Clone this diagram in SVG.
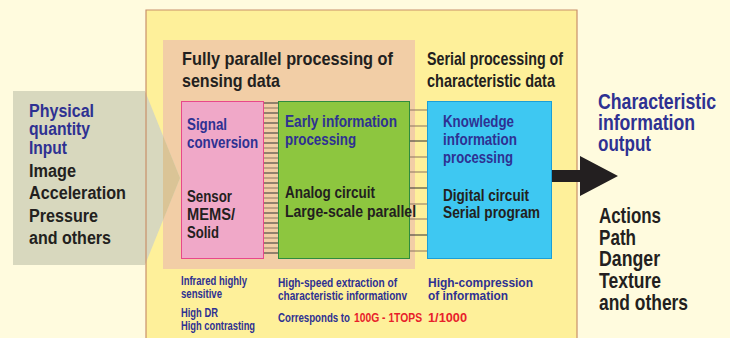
<svg xmlns="http://www.w3.org/2000/svg" width="730" height="338" viewBox="0 0 730 338">
<style>
text{font-family:"Liberation Sans Narrow","Liberation Sans",Arial,sans-serif;font-weight:bold;}
.bl{fill:#2E3192}
.bk{fill:#231F20}
.rd{fill:#E8202A}
.f19{font-size:19px}
.f18{font-size:18px}
.f17{font-size:17px}
.f22{font-size:22px}
.f13{font-size:13px}
.w1{stroke:#333;stroke-width:1}
.w2{stroke:#8B7560;stroke-width:1}
</style>
<rect x="0" y="0" width="730" height="338" fill="#FFFBDE"/>
<g id="panel-serial">
<rect x="146" y="10" width="431" height="340" fill="#FEF09A"/>
</g>
<g id="panel-parallel">
<rect x="163" y="40" width="252" height="229" fill="#F2CEA6"/>
</g>
<g id="input">
<path d="M13,91 H145 L180,178 L145,265 H13 Z" fill="#D8D8BE"/>
<path d="M163,135.7 L180,178 L163,220.3 Z" fill="#DAC496"/>
<text class="bl f19" transform="translate(29,0) scale(0.85,1)"><tspan x="0" y="117" textLength="76.5" lengthAdjust="spacingAndGlyphs">Physical</tspan><tspan x="0" y="135" textLength="71.8" lengthAdjust="spacingAndGlyphs">quantity</tspan><tspan x="0" y="154" textLength="44.7" lengthAdjust="spacingAndGlyphs">Input</tspan></text>
<text class="bk f19" transform="translate(29,0) scale(0.85,1)"><tspan x="0" y="177" textLength="55.3" lengthAdjust="spacingAndGlyphs">Image</tspan><tspan x="0" y="199" textLength="114.1" lengthAdjust="spacingAndGlyphs">Acceleration</tspan><tspan x="0" y="222" textLength="81.2" lengthAdjust="spacingAndGlyphs">Pressure</tspan><tspan x="0" y="244" textLength="96.5" lengthAdjust="spacingAndGlyphs">and others</tspan></text>
</g>
<path d="M146,338 V10 H577 V338" fill="none" stroke="#C8906A" stroke-width="1.2"/>
<g id="header-parallel">
<text class="bk f18" transform="translate(182,0) scale(0.9,1)"><tspan x="0" y="65" textLength="234.4" lengthAdjust="spacingAndGlyphs">Fully parallel processing of</tspan><tspan x="0" y="87" textLength="108.9" lengthAdjust="spacingAndGlyphs">sensing data</tspan></text>
</g>
<g id="header-serial">
<text class="bk f18" transform="translate(427,0) scale(0.9,1)"><tspan x="0" y="65" textLength="151.1" lengthAdjust="spacingAndGlyphs">Serial processing of</tspan><tspan x="0" y="87" textLength="142.2" lengthAdjust="spacingAndGlyphs">characteristic data</tspan></text>
</g>
<g id="connectors">
<g id="bus-pink-green">
<line class="w1" x1="264" y1="103" x2="278" y2="103"/><line class="w2" x1="264" y1="108" x2="278" y2="108"/>
<line class="w1" x1="264" y1="113" x2="278" y2="113"/><line class="w2" x1="264" y1="118" x2="278" y2="118"/>
<line class="w1" x1="264" y1="123" x2="278" y2="123"/><line class="w2" x1="264" y1="128" x2="278" y2="128"/>
<line class="w1" x1="264" y1="133" x2="278" y2="133"/><line class="w2" x1="264" y1="138" x2="278" y2="138"/>
<line class="w1" x1="264" y1="143" x2="278" y2="143"/><line class="w2" x1="264" y1="148" x2="278" y2="148"/>
<line class="w1" x1="264" y1="153" x2="278" y2="153"/><line class="w2" x1="264" y1="158" x2="278" y2="158"/>
<line class="w1" x1="264" y1="163" x2="278" y2="163"/><line class="w2" x1="264" y1="168" x2="278" y2="168"/>
<line class="w1" x1="264" y1="173" x2="278" y2="173"/><line class="w2" x1="264" y1="178" x2="278" y2="178"/>
<line class="w1" x1="264" y1="183" x2="278" y2="183"/><line class="w2" x1="264" y1="188" x2="278" y2="188"/>
<line class="w1" x1="264" y1="193" x2="278" y2="193"/><line class="w2" x1="264" y1="198" x2="278" y2="198"/>
<line class="w1" x1="264" y1="203" x2="278" y2="203"/><line class="w2" x1="264" y1="208" x2="278" y2="208"/>
<line class="w1" x1="264" y1="213" x2="278" y2="213"/><line class="w2" x1="264" y1="218" x2="278" y2="218"/>
<line class="w1" x1="264" y1="223" x2="278" y2="223"/><line class="w2" x1="264" y1="228" x2="278" y2="228"/>
<line class="w1" x1="264" y1="233" x2="278" y2="233"/><line class="w2" x1="264" y1="238" x2="278" y2="238"/>
<line class="w1" x1="264" y1="243" x2="278" y2="243"/><line class="w2" x1="264" y1="248" x2="278" y2="248"/>
<line class="w1" x1="264" y1="253" x2="278" y2="253"/>
</g>
<g id="bus-green-blue">
<line class="w2" x1="410" y1="110" x2="427" y2="110"/><line class="w2" x1="410" y1="126" x2="427" y2="126"/>
<line class="w1" x1="410" y1="141" x2="427" y2="141"/><line class="w2" x1="410" y1="157" x2="427" y2="157"/>
<line class="w2" x1="410" y1="172" x2="427" y2="172"/><line class="w1" x1="410" y1="188" x2="427" y2="188"/>
<line class="w2" x1="410" y1="204" x2="427" y2="204"/><line class="w2" x1="410" y1="219" x2="427" y2="219"/>
<line class="w1" x1="410" y1="235" x2="427" y2="235"/><line class="w2" x1="410" y1="251" x2="427" y2="251"/>
</g>
<path id="output-arrow" d="M552,170 H580 V156 L618,176 L580,196 V182 H552 Z" fill="#231F20"/>
</g>
<g id="signal-conversion">
<rect x="181.5" y="101.5" width="82" height="157" fill="#F0A8C8" stroke="#E8488A" stroke-width="1"/>
<text class="bl f17" transform="translate(187,0) scale(0.82,1)"><tspan x="0" y="130" textLength="48.8" lengthAdjust="spacingAndGlyphs">Signal</tspan><tspan x="0" y="148" textLength="86.6" lengthAdjust="spacingAndGlyphs">conversion</tspan></text>
<text class="bk f17" transform="translate(187,0) scale(0.82,1)"><tspan x="0" y="202" textLength="54.9" lengthAdjust="spacingAndGlyphs">Sensor</tspan><tspan x="0" y="220" textLength="58.5" lengthAdjust="spacingAndGlyphs">MEMS/</tspan><tspan x="0" y="238" textLength="39" lengthAdjust="spacingAndGlyphs">Solid</tspan></text>
</g>
<g id="early-processing">
<rect x="278.5" y="101.5" width="131" height="157" fill="#8DC63F" stroke="#2E8B3E" stroke-width="1"/>
<text class="bl f17" transform="translate(285,0) scale(0.82,1)"><tspan x="0" y="127" textLength="136.6" lengthAdjust="spacingAndGlyphs">Early information</tspan><tspan x="0" y="145" textLength="86.6" lengthAdjust="spacingAndGlyphs">processing</tspan></text>
<text class="bk f17" transform="translate(285,0) scale(0.82,1)"><tspan x="0" y="198" textLength="109.8" lengthAdjust="spacingAndGlyphs">Analog circuit</tspan><tspan x="0" y="217" textLength="159.8" lengthAdjust="spacingAndGlyphs">Large-scale parallel</tspan></text>
</g>
<g id="knowledge-processing">
<rect x="427.5" y="101.5" width="124" height="157" fill="#3EC8F2" stroke="#1A9FD8" stroke-width="1"/>
<text class="bl f17" transform="translate(443,0) scale(0.82,1)"><tspan x="0" y="127" textLength="86.6" lengthAdjust="spacingAndGlyphs">Knowledge</tspan><tspan x="0" y="145" textLength="90.2" lengthAdjust="spacingAndGlyphs">information</tspan><tspan x="0" y="163" textLength="85.4" lengthAdjust="spacingAndGlyphs">processing</tspan></text>
<text class="bk f17" transform="translate(443,0) scale(0.82,1)"><tspan x="0" y="201" textLength="104.9" lengthAdjust="spacingAndGlyphs">Digital circuit</tspan><tspan x="0" y="218" textLength="118.3" lengthAdjust="spacingAndGlyphs">Serial program</tspan></text>
</g>
<g id="output">
<text class="bl f22" transform="translate(598,0) scale(0.8,1)"><tspan x="0" y="109" textLength="147.5" lengthAdjust="spacingAndGlyphs">Characteristic</tspan><tspan x="0" y="130" textLength="121.3" lengthAdjust="spacingAndGlyphs">information</tspan><tspan x="0" y="151" textLength="66.3" lengthAdjust="spacingAndGlyphs">output</tspan></text>
<text class="bk f22" transform="translate(599,0) scale(0.8,1)"><tspan x="0" y="223" textLength="77.5" lengthAdjust="spacingAndGlyphs">Actions</tspan><tspan x="0" y="245" textLength="46.3" lengthAdjust="spacingAndGlyphs">Path</tspan><tspan x="0" y="266" textLength="76.3" lengthAdjust="spacingAndGlyphs">Danger</tspan><tspan x="0" y="288" textLength="77.5" lengthAdjust="spacingAndGlyphs">Texture</tspan><tspan x="0" y="310" textLength="111.3" lengthAdjust="spacingAndGlyphs">and others</tspan></text>
</g>
<g id="notes">
<text class="bl f13" transform="translate(181,0) scale(0.78,1)"><tspan x="0" y="285" textLength="84.6" lengthAdjust="spacingAndGlyphs">Infrared highly</tspan><tspan x="0" y="298" textLength="52.6" lengthAdjust="spacingAndGlyphs">sensitive</tspan><tspan x="0" y="317" textLength="47.4" lengthAdjust="spacingAndGlyphs">High DR</tspan><tspan x="0" y="330" textLength="94.9" lengthAdjust="spacingAndGlyphs">High contrasting</tspan></text>
<text class="bl f13" transform="translate(278,0) scale(0.78,1)"><tspan x="0" y="287" textLength="152.6" lengthAdjust="spacingAndGlyphs">High-speed extraction of</tspan><tspan x="0" y="300" textLength="165.4" lengthAdjust="spacingAndGlyphs">characteristic informationv</tspan><tspan x="0" y="322" textLength="92.3" lengthAdjust="spacingAndGlyphs">Corresponds to</tspan></text>
<text class="rd f13" transform="translate(354,0) scale(0.78,1)" x="0" y="322" textLength="87.2" lengthAdjust="spacingAndGlyphs">100G - 1TOPS</text>
<text class="bl f13" transform="translate(428,0) scale(0.78,1)"><tspan x="0" y="287" textLength="134.6" lengthAdjust="spacingAndGlyphs">High-compression</tspan><tspan x="0" y="300" textLength="102.6" lengthAdjust="spacingAndGlyphs">of information</tspan></text>
<text class="rd f13" transform="translate(428,0) scale(0.78,1)" x="0" y="322" textLength="50" lengthAdjust="spacingAndGlyphs">1/1000</text>
</g>
</svg>
